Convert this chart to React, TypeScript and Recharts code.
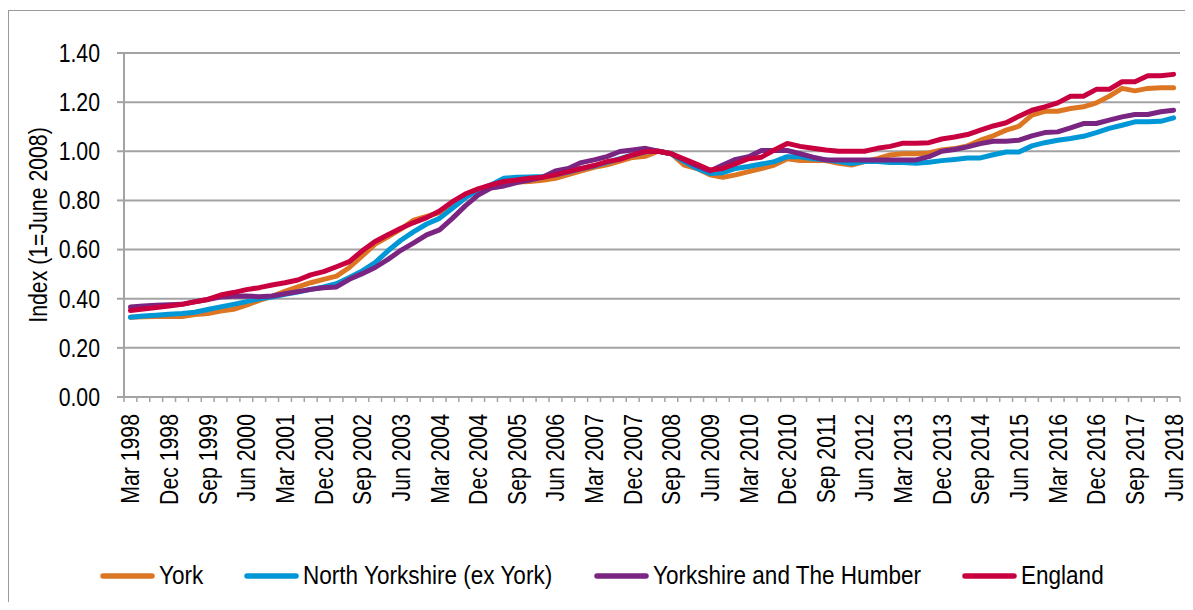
import { LineChart, Line, XAxis, YAxis, CartesianGrid, Legend } from 'recharts';

const QUARTERS = [
  'Mar 1998', 'Jun 1998', 'Sep 1998', 'Dec 1998',
  'Mar 1999', 'Jun 1999', 'Sep 1999', 'Dec 1999',
  'Mar 2000', 'Jun 2000', 'Sep 2000', 'Dec 2000',
  'Mar 2001', 'Jun 2001', 'Sep 2001', 'Dec 2001',
  'Mar 2002', 'Jun 2002', 'Sep 2002', 'Dec 2002',
  'Mar 2003', 'Jun 2003', 'Sep 2003', 'Dec 2003',
  'Mar 2004', 'Jun 2004', 'Sep 2004', 'Dec 2004',
  'Mar 2005', 'Jun 2005', 'Sep 2005', 'Dec 2005',
  'Mar 2006', 'Jun 2006', 'Sep 2006', 'Dec 2006',
  'Mar 2007', 'Jun 2007', 'Sep 2007', 'Dec 2007',
  'Mar 2008', 'Jun 2008', 'Sep 2008', 'Dec 2008',
  'Mar 2009', 'Jun 2009', 'Sep 2009', 'Dec 2009',
  'Mar 2010', 'Jun 2010', 'Sep 2010', 'Dec 2010',
  'Mar 2011', 'Jun 2011', 'Sep 2011', 'Dec 2011',
  'Mar 2012', 'Jun 2012', 'Sep 2012', 'Dec 2012',
  'Mar 2013', 'Jun 2013', 'Sep 2013', 'Dec 2013',
  'Mar 2014', 'Jun 2014', 'Sep 2014', 'Dec 2014',
  'Mar 2015', 'Jun 2015', 'Sep 2015', 'Dec 2015',
  'Mar 2016', 'Jun 2016', 'Sep 2016', 'Dec 2016',
  'Mar 2017', 'Jun 2017', 'Sep 2017', 'Dec 2017',
  'Mar 2018', 'Jun 2018',
];

const york = [
  0.325, 0.327, 0.328, 0.328, 0.328, 0.336, 0.34, 0.35, 0.357, 0.374,
  0.393, 0.41, 0.43, 0.448, 0.465, 0.479, 0.492, 0.527, 0.574, 0.622,
  0.652, 0.683, 0.72, 0.735, 0.75, 0.79, 0.825, 0.845, 0.86, 0.87,
  0.875, 0.877, 0.882, 0.89, 0.905, 0.92, 0.935, 0.945, 0.96, 0.975,
  0.98, 1.0, 0.99, 0.944, 0.93, 0.904, 0.894, 0.904, 0.917, 0.93,
  0.944, 0.97, 0.962, 0.962, 0.962, 0.951, 0.944, 0.958, 0.97, 0.985,
  0.99, 0.99, 0.993, 1.005, 1.011, 1.022, 1.045, 1.063, 1.086, 1.102,
  1.147, 1.163, 1.163, 1.174, 1.181, 1.197, 1.224, 1.256, 1.246, 1.256,
  1.259, 1.259,
];

const northYorkshire = [
  0.325, 0.33, 0.333, 0.337, 0.34, 0.345, 0.356, 0.367, 0.377, 0.388,
  0.4, 0.407, 0.418, 0.427, 0.438, 0.448, 0.461, 0.486, 0.513, 0.547,
  0.595, 0.638, 0.673, 0.704, 0.727, 0.768, 0.81, 0.843, 0.863, 0.89,
  0.894, 0.895, 0.897, 0.904, 0.915, 0.93, 0.94, 0.955, 0.97, 0.985,
  0.998, 1.0, 0.99, 0.958, 0.93, 0.91, 0.913, 0.93, 0.938, 0.948,
  0.958, 0.978, 0.978, 0.97, 0.965, 0.958, 0.95, 0.958, 0.958, 0.954,
  0.954, 0.951, 0.955, 0.962, 0.967, 0.973, 0.973, 0.986, 0.997, 0.997,
  1.022, 1.035, 1.045, 1.052, 1.061, 1.076, 1.093, 1.106, 1.12, 1.12,
  1.122, 1.136,
];

const yorkshireHumber = [
  0.366, 0.37, 0.373, 0.375, 0.377, 0.388, 0.397, 0.407, 0.41, 0.411,
  0.408, 0.411, 0.42, 0.429, 0.438, 0.445, 0.448, 0.479, 0.502, 0.527,
  0.56, 0.597, 0.627, 0.66, 0.68, 0.727, 0.778, 0.822, 0.85, 0.859,
  0.873, 0.883, 0.894, 0.92, 0.93, 0.954, 0.965, 0.978, 0.999, 1.005,
  1.012, 1.0, 0.99, 0.965, 0.94, 0.92, 0.944, 0.967, 0.978, 1.003,
  1.003, 1.003, 0.99, 0.976, 0.965, 0.965, 0.965, 0.965, 0.965, 0.965,
  0.965, 0.965, 0.978, 1.0, 1.007, 1.018, 1.031, 1.041, 1.041, 1.045,
  1.063, 1.076, 1.079, 1.095, 1.113, 1.113, 1.127, 1.14, 1.15, 1.15,
  1.161, 1.167,
];

const england = [
  0.352, 0.358, 0.364, 0.37, 0.377, 0.387, 0.397, 0.415, 0.425, 0.437,
  0.445, 0.456, 0.465, 0.476, 0.497, 0.51, 0.53, 0.551, 0.595, 0.633,
  0.66, 0.687, 0.71, 0.73, 0.757, 0.795, 0.826, 0.847, 0.863, 0.877,
  0.883, 0.89, 0.894, 0.904, 0.917, 0.93, 0.942, 0.958, 0.967, 0.985,
  0.999, 1.0, 0.99, 0.968, 0.947, 0.924, 0.93, 0.95, 0.97, 0.976,
  1.005, 1.032, 1.02, 1.012, 1.005, 1.0, 1.0, 1.0, 1.012, 1.02,
  1.033, 1.033, 1.035, 1.05, 1.058, 1.068, 1.086, 1.103, 1.116, 1.143,
  1.167, 1.181, 1.197, 1.224, 1.224, 1.252, 1.252, 1.283, 1.283, 1.307,
  1.307, 1.313,
];

const Y_TICKS = [0, 0.2, 0.4, 0.6, 0.8, 1.0, 1.2, 1.4];

const SERIES = [
  { key: 'york', name: 'York', color: '#DD7622' },
  { key: 'northYorkshire', name: 'North Yorkshire (ex York)', color: '#0097D7' },
  { key: 'yorkshireHumber', name: 'Yorkshire and The Humber', color: '#7A2582' },
  { key: 'england', name: 'England', color: '#C8003F' },
];

const data = QUARTERS.map((q, i) => ({
  quarter: q,
  york: york[i],
  northYorkshire: northYorkshire[i],
  yorkshireHumber: yorkshireHumber[i],
  england: england[i],
}));

// no narrow font installed, so squeeze Liberation Sans sideways
const FONT = "'Liberation Sans', Arial, sans-serif";
const FONT_SIZE = 25;
const LEGEND_FONT_SIZE = 26.5;
const SX = 0.85;
const GRID = '#a3a3a3';
const PLOT_W = 1056;
const STEP = PLOT_W / QUARTERS.length;
const TICK_SIZE = 5;
const TICK_MARGIN = 12;

let measureCtx: CanvasRenderingContext2D | null = null;
function textWidth(s: string, size: number) {
  if (!measureCtx) measureCtx = document.createElement('canvas').getContext('2d');
  if (!measureCtx) return s.length * size * 0.5;
  measureCtx.font = `${size}px ${FONT}`;
  return measureCtx.measureText(s).width;
}

function QuarterTick(props: any) {
  const { x, y, index, payload } = props;
  const axisY = y - TICK_SIZE - TICK_MARGIN;
  const last = index === QUARTERS.length - 1;
  return (
    <g>
      <line x1={x - STEP / 2} x2={x - STEP / 2} y1={axisY} y2={axisY + TICK_SIZE} stroke={GRID} strokeWidth={1.5} />
      {last && (
        <line x1={x + STEP / 2} x2={x + STEP / 2} y1={axisY} y2={axisY + TICK_SIZE} stroke={GRID} strokeWidth={1.5} />
      )}
      {index % 3 === 0 && (
        <text
          transform={`translate(${x},${y}) rotate(-90) scale(${SX},1)`}
          dy="0.36em"
          textAnchor="end"
          fontFamily={FONT}
          fontSize={FONT_SIZE}
          fill="#000"
        >
          {payload.value}
        </text>
      )}
    </g>
  );
}

function ValueTick(props: any) {
  const { x, y, payload } = props;
  return (
    <text
      transform={`translate(${x},${y}) scale(${SX},1)`}
      dy="0.355em"
      textAnchor="end"
      fontFamily={FONT}
      fontSize={FONT_SIZE}
      fill="#000"
    >
      {Number(payload.value).toFixed(2)}
    </text>
  );
}

function YLabel(props: any) {
  const { viewBox } = props;
  const cy = viewBox.y + viewBox.height / 2;
  return (
    <text
      transform={`translate(29,${cy}) rotate(-90) scale(${SX},1)`}
      dy="0.355em"
      textAnchor="middle"
      fontFamily={FONT}
      fontSize={FONT_SIZE}
      fill="#000"
    >
      Index (1=June 2008)
    </text>
  );
}

function LegendContent() {
  return (
    <div
      style={{
        display: 'flex',
        justifyContent: 'center',
        alignItems: 'center',
        fontFamily: FONT,
        fontSize: LEGEND_FONT_SIZE,
        color: '#000',
        paddingLeft: 7,
      }}
    >
      {SERIES.map((s, i) => (
        <div key={s.key} style={{ display: 'flex', alignItems: 'center', marginLeft: i ? 41 : 0 }}>
          <svg width={55} height={8}>
            <line x1={3} y1={4} x2={52} y2={4} stroke={s.color} strokeWidth={5.5} strokeLinecap="round" />
          </svg>
          <span
            style={{
              display: 'inline-block',
              marginLeft: 4,
              width: textWidth(s.name, LEGEND_FONT_SIZE) * SX,
              whiteSpace: 'nowrap',
            }}
          >
            <span style={{ display: 'inline-block', transform: `scaleX(${SX})`, transformOrigin: 'left center' }}>
              {s.name}
            </span>
          </span>
        </div>
      ))}
    </div>
  );
}

export default function App() {
  return (
    <div
      style={{
        position: 'relative',
        top: 2,
        width: 1179,
        height: 593,
        border: '1px solid #9a9a9a',
        borderBottom: 'none',
        background: '#fff',
      }}
    >
      <LineChart width={1179} height={593} data={data} margin={{ top: 42, right: 8, bottom: 0, left: 0 }}>
        <CartesianGrid vertical={false} stroke={GRID} strokeWidth={2} />
        <XAxis
          dataKey="quarter"
          interval={0}
          height={207}
          padding={{ left: STEP / 2, right: STEP / 2 }}
          axisLine={{ stroke: GRID, strokeWidth: 2 }}
          tickLine={false}
          tickSize={TICK_SIZE}
          tickMargin={TICK_MARGIN}
          tick={<QuarterTick />}
        />
        <YAxis
          width={115}
          domain={[0, 1.4]}
          ticks={Y_TICKS}
          axisLine={{ stroke: GRID, strokeWidth: 2 }}
          tickLine={{ stroke: GRID, strokeWidth: 2 }}
          tickSize={7}
          tickMargin={17}
          tick={<ValueTick />}
          label={<YLabel />}
        />
        <Legend
          layout="horizontal"
          verticalAlign="middle"
          align="center"
          wrapperStyle={{ top: 549, left: 0, width: 1179 }}
          content={<LegendContent />}
        />
        {SERIES.map((s) => (
          <Line
            key={s.key}
            type="linear"
            dataKey={s.key}
            name={s.name}
            stroke={s.color}
            strokeWidth={5}
            strokeLinejoin="round"
            strokeLinecap="round"
            dot={false}
            activeDot={false}
            isAnimationActive={false}
          />
        ))}
      </LineChart>
    </div>
  );
}
